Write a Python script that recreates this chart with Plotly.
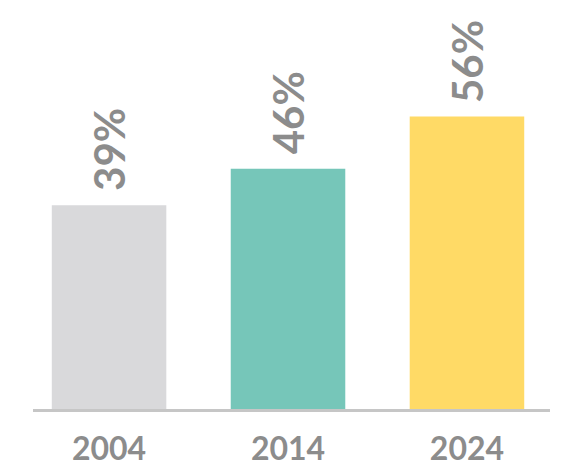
import plotly.graph_objects as go

years = ['2004', '2014', '2024']
shares = [39, 46, 56]
bar_colors = ['#d9d9db', '#76c6b9', '#ffda66']

fig = go.Figure(go.Bar(
    x=years,
    y=shares,
    width=0.64,
    marker=dict(color=bar_colors, line=dict(width=0)),
    hoverinfo='skip'
))

# rotated value labels above each bar (x given as category index,
# since "2004" etc. would otherwise be read as a position)
for i, v in enumerate(shares):
    fig.add_annotation(
        x=i, y=v,
        text=f'{v}%',
        textangle=-90,
        showarrow=False,
        xanchor='center',
        yanchor='bottom',
        yshift=12,
        font=dict(family='Lato', size=42, color='#8c8c8c', weight='bold'),
    )

fig.update_layout(
    width=585,
    height=476,
    margin=dict(l=25, r=43, t=12, b=75),
    paper_bgcolor='white',
    plot_bgcolor='white',
    showlegend=False,
    xaxis=dict(
        type='category',
        range=[-0.425, 2.464],
        showline=True,
        linecolor='#c6c6c6',
        linewidth=3,
        ticks='',
        ticklabelstandoff=10,
        showgrid=False,
        tickfont=dict(family='Lato', size=32, color='#8c8c8c', weight='bold'),
    ),
    yaxis=dict(
        range=[0, 74.5],
        visible=False,
        showgrid=False,
        zeroline=False,
    ),
)

fig.write_html('out.html')
